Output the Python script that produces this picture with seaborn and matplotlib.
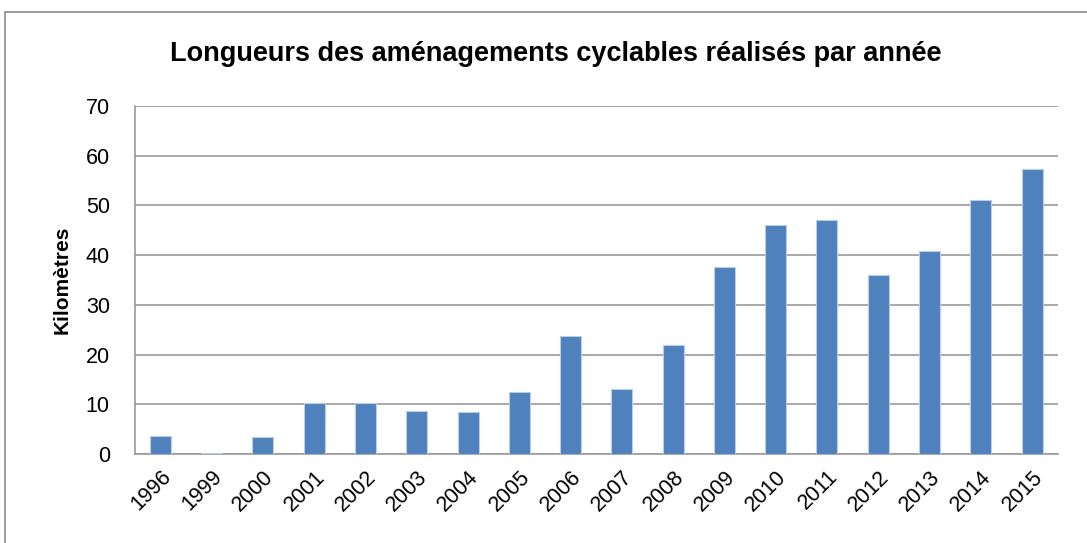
import matplotlib
matplotlib.use("Agg")
import matplotlib.pyplot as plt
import seaborn as sns
import pandas as pd
import numpy as np
from matplotlib.patches import Rectangle

years = ["1996", "1999", "2000", "2001", "2002", "2003", "2004", "2005", "2006",
         "2007", "2008", "2009", "2010", "2011", "2012", "2013", "2014", "2015"]
km = [3.6, 0.2, 3.5, 10.3, 10.3, 8.6, 8.5, 12.5, 23.7,
      13.0, 21.9, 37.5, 46.1, 47.1, 35.9, 40.9, 51.1, 57.3]

df = pd.DataFrame({"annee": years, "km": km})

sns.set_style("white")
plt.rcParams["font.family"] = ["Liberation Sans", "DejaVu Sans"]
plt.rcParams["text.color"] = "black"
plt.rcParams["xtick.color"] = "black"
plt.rcParams["ytick.color"] = "black"
plt.rcParams["axes.labelcolor"] = "black"

fig = plt.figure(figsize=(10.87, 5.43), dpi=100)
ax = fig.add_axes([0.124, 0.164, 0.849, 0.641])

sns.barplot(data=df, x="annee", y="km", color="#4F81BD", width=0.41,
            edgecolor="#B9CDE5", linewidth=0.8, saturation=1, ax=ax, zorder=3)

ax.set_ylim(0, 70)
ax.set_xlim(-0.5, len(years) - 0.5)
ax.set_yticks(range(0, 71, 10))
ax.yaxis.grid(True, color="#9A9A9A", linewidth=1.2, zorder=0)
ax.set_axisbelow(True)

for s in ["top", "right"]:
    ax.spines[s].set_visible(False)
ax.spines["left"].set_color("#9A9A9A")
ax.spines["bottom"].set_color("#9A9A9A")
ax.spines["left"].set_linewidth(1.2)
ax.spines["bottom"].set_linewidth(1.2)

# ticks between categories like Excel
ax.set_xticks(np.arange(len(years)))
ax.set_xticklabels(years, rotation=45, ha="right", rotation_mode="anchor", fontsize=15.5)
ax.set_xticks(np.arange(len(years) + 1) - 0.5, minor=True)
ax.tick_params(axis="x", which="major", length=0, pad=9)
ax.tick_params(axis="x", which="minor", length=6, color="#9A9A9A", width=1.2)
ax.tick_params(axis="y", length=6, color="#9A9A9A", labelcolor="black", width=1.2,
               labelsize=15.5, pad=12)

ax.set_xlabel("")
ax.set_ylabel("Kilomètres", fontsize=15, fontweight="bold", labelpad=10)
fig.suptitle("Longueurs des aménagements cyclables réalisés par année",
             x=0.511, y=0.925, fontsize=19.5, fontweight="bold")

fig.patches.append(Rectangle((5 / 1087, -0.02), 1.1, 1 - 12 / 543 + 0.02,
                             transform=fig.transFigure, fill=False,
                             edgecolor="#8C8C8C", linewidth=1.2))

fig.savefig("out.png", dpi=100)
